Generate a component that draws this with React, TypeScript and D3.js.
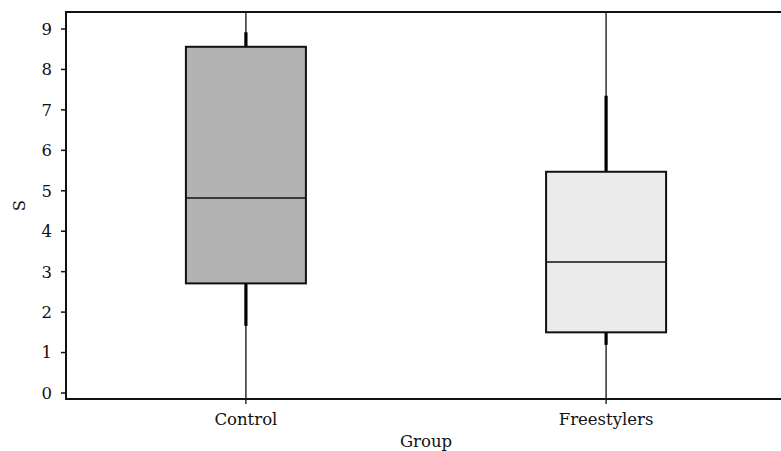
import React from "react";
import * as d3 from "d3";

const categories = ["Control", "Freestylers"];
const q1 = [2.71, 1.5];
const medians = [4.82, 3.24];
const q3 = [8.56, 5.47];
const innerLow = [1.66, 1.19];
const innerHigh = [8.92, 7.35];
const outerLow = [-1, -1];
const outerHigh = [11, 11];
const fills = ["#b3b3b3", "#ebebeb"];
const yTicks = [0, 1, 2, 3, 4, 5, 6, 7, 8, 9];

const W = 781;
const H = 451;
const left = 66;
const right = 786;
const top = 12;
const bottom = 399;

export default function App() {
  const x = d3.scaleBand<string>().domain(categories).range([left, right]).paddingInner(0.667).paddingOuter(0.333);
  const y = d3.scaleLinear().domain([0, 9]).range([393, 29]);
  const boxW = 120;
  const font = "'DejaVu Serif', serif";
  const fs = 16.5;
  return (
    <svg width={W} height={H} style={{ position: "absolute", left: 0, top: 0 }}>
      <defs>
        <clipPath id="plot">
          <rect x={left} y={top} width={right - left} height={bottom - top} />
        </clipPath>
      </defs>
      <rect x={0} y={0} width={W} height={H} fill="#fff" />
      <g clipPath="url(#plot)">
        {categories.map((c, i) => {
          const cx = x(c)! + x.bandwidth() / 2;
          return (
            <g key={c}>
              <line x1={cx} x2={cx} y1={y(outerLow[i])} y2={y(outerHigh[i])} stroke="#111" strokeWidth={1.3} />
              <line x1={cx} x2={cx} y1={y(innerLow[i])} y2={y(q1[i])} stroke="#000" strokeWidth={3.2} />
              <line x1={cx} x2={cx} y1={y(q3[i])} y2={y(innerHigh[i])} stroke="#000" strokeWidth={3.2} />
              <rect x={cx - boxW / 2} y={y(q3[i])} width={boxW} height={y(q1[i]) - y(q3[i])} fill={fills[i]} stroke="#111" strokeWidth={2} />
              <line x1={cx - boxW / 2} x2={cx + boxW / 2} y1={y(medians[i])} y2={y(medians[i])} stroke="#111" strokeWidth={1.6} />
            </g>
          );
        })}
      </g>
      <line x1={left} x2={W} y1={top} y2={top} stroke="#111" strokeWidth={2} />
      <line x1={left} x2={left} y1={top - 1} y2={bottom + 1} stroke="#111" strokeWidth={2} />
      <line x1={left} x2={W} y1={bottom} y2={bottom} stroke="#111" strokeWidth={2} />
      {yTicks.map((t) => (
        <g key={t}>
          <line x1={left - 5} x2={left} y1={y(t)} y2={y(t)} stroke="#111" strokeWidth={1.5} />
          <text x={52} y={y(t)} dy="0.36em" textAnchor="end" fontFamily={font} fontSize={fs} fill="#111">
            {t}
          </text>
        </g>
      ))}
      {categories.map((c) => {
        const cx = x(c)! + x.bandwidth() / 2;
        return (
          <g key={c}>
            <line x1={cx} x2={cx} y1={bottom} y2={bottom + 5} stroke="#111" strokeWidth={1.3} />
            <text x={cx} y={425} textAnchor="middle" fontFamily={font} fontSize={fs} fill="#111">
              {c}
            </text>
          </g>
        );
      })}
      <text x={(left + right) / 2} y={447} textAnchor="middle" fontFamily={font} fontSize={fs} fill="#111">
        Group
      </text>
      <text transform={`translate(25,${(top + bottom) / 2}) rotate(-90)`} textAnchor="middle" fontFamily={font} fontSize={fs} fill="#111">
        S
      </text>
    </svg>
  );
}
